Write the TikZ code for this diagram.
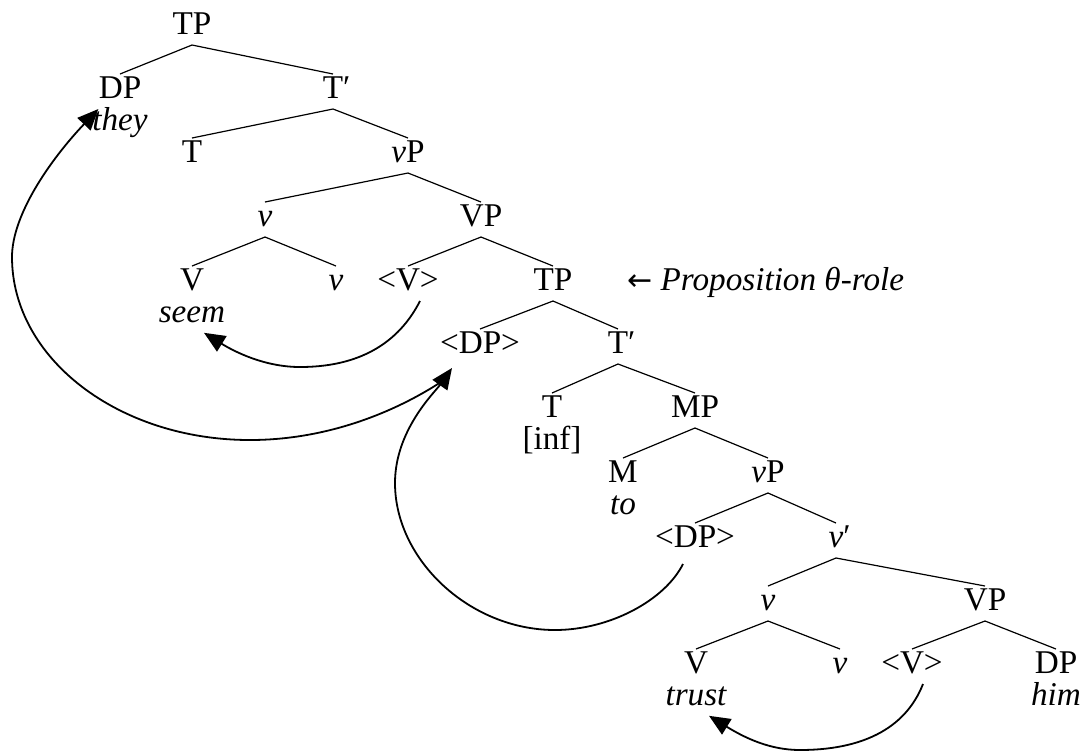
\documentclass[tikz,border=0pt]{standalone}
\usepackage{fontspec}
\setmainfont{Liberation Serif}
\newfontfamily\arrowfont{DejaVu Sans}
\usetikzlibrary{positioning,arrows.meta}

\newcommand\treesize{\fontsize{16.6pt}{20pt}\selectfont}
\tikzset{
  cat/.style={anchor=base, inner sep=0pt, outer ysep=1pt, text height=11pt, text depth=4.5pt, font=\treesize},
  word/.style={inner sep=0pt, text height=9pt, text depth=3pt, font=\treesize\itshape},
  feat/.style={word, font=\treesize},
  branch/.style={line width=0.6pt},
  move/.style={line width=0.9pt, -{Triangle[length=10.5pt,width=9pt]}},
}

\begin{document}
\begin{tikzpicture}[x=0.5pt, y=-0.5pt]
	  \useasboundingbox (0,0) rectangle (1083,752);

      % Define nodes
	  \node[cat] (tp)          at (192,34)  {TP};
	  \node[cat] (dp)          at (120,98)  {DP};
	  \node[cat] (tbar)        at (333,98)  {T\rlap{′}};
	  \node[cat] (t)           at (192,162) {T};
	  \node[cat] (vp)          at (408,162) {\textit{v}P};
	  \node[cat] (v)           at (265,226) {\textit{v}};
	  \node[cat] (bigvp)       at (481,226) {VP};
	  \node[cat] (verb)        at (192,290) {V};
	  \node[cat] (v-aff)       at (336,290) {\textit{v}};
	  \node[cat] (v-trace)     at (408,290) {<V>};
	  \node[cat] (tp-low)      at (553,290) {TP};
	  \node[cat] (dp-trace)    at (480,353) {<DP>};
	  \node[cat] (tbar-low)    at (618,353) {T\rlap{′}};
	  \node[cat] (t-low)       at (552,417) {T};
	  \node[cat] (mp)          at (695,417) {MP};
	  \node[cat] (m)           at (623,482) {M};
	  \node[cat] (vp-low)      at (768,482) {\textit{v}P};
	  \node[cat] (dp-low)      at (695,547) {<DP>};
	  \node[cat] (vbar)        at (836,547) {\textit{v}\rlap{′}};
	  \node[cat] (v-low)       at (768,610) {\textit{v}};
	  \node[cat] (bigvp-low)   at (985,610) {VP};
	  \node[cat] (verb-low)    at (696,673) {V};
	  \node[cat] (v-aff-low)   at (840,673) {\textit{v}};
	  \node[cat] (v-trace-low) at (912,673) {<V>};
	  \node[cat] (dp-obj)      at (1056,673) {DP};

	  \node[word, below=1.5pt of dp]       (they)  {they};
	  \node[word, below=1.5pt of verb]     (seem)  {seem};
	  \node[feat, below=1.5pt of t-low]    (inf)   {[inf]};
	  \node[word, below=1.5pt of m]        (to)    {to};
	  \node[word, below=1.5pt of verb-low] (trust) {trust};
	  \node[word, below=1.5pt of dp-obj]   (him)   {him};

	  \node[cat, right=27pt of tp-low]     (role)  {{\arrowfont\fontsize{15pt}{20pt}\selectfont ←} \textit{Proposition θ-role}};

	  % Connect the nodes
	  \draw[branch] (tp.south) -- (dp.north) (tp.south) -- (tbar.north);
	  \draw[branch] (tbar.south) -- (t.north) (tbar.south) -- (vp.north);
	  \draw[branch] (vp.south) -- (v.north) (vp.south) -- (bigvp.north);
	  \draw[branch] (v.south) -- (verb.north) (v.south) -- (v-aff.north);
	  \draw[branch] (bigvp.south) -- (v-trace.north) (bigvp.south) -- (tp-low.north);
	  \draw[branch] (tp-low.south) -- (dp-trace.north) (tp-low.south) -- (tbar-low.north);
	  \draw[branch] (tbar-low.south) -- (t-low.north) (tbar-low.south) -- (mp.north);
	  \draw[branch] (mp.south) -- (m.north) (mp.south) -- (vp-low.north);
	  \draw[branch] (vp-low.south) -- (dp-low.north) (vp-low.south) -- (vbar.north);
	  \draw[branch] (vbar.south) -- (v-low.north) (vbar.south) -- (bigvp-low.north);
	  \draw[branch] (v-low.south) -- (verb-low.north) (v-low.south) -- (v-aff-low.north);
	  \draw[branch] (bigvp-low.south) -- (v-trace-low.north) (bigvp-low.south) -- (dp-obj.north);

	  % Movement
	  \draw[move] ([xshift=6pt]v-trace.south) .. controls (395,350) and (350,367) .. (300,367)
	      .. controls (265,367) and (235,352) .. ([shift={(12,4)}]seem.south);
	  \draw[move] ([shift={(-33,14)}]dp-trace.south) .. controls (400,410) and (330,440) .. (250,440)
	      .. controls (118,440) and (12,358) .. (12,257)
	      .. controls (12,215) and (50,160) .. (dp.south west);
	  \draw[move] ([shift={(-12,6)}]dp-low.south) .. controls (665,600) and (610,630) .. (555,630)
	      .. controls (470,630) and (395,560) .. (395,483)
	      .. controls (395,430) and (435,392) .. ([shift={(-28,4)}]dp-trace.south);
	  \draw[move] ([xshift=5.5pt]v-trace-low.south) .. controls (905,730) and (860,750) .. (800,750)
	      .. controls (770,750) and (745,738) .. ([shift={(13,4)}]trust.south);

	\end{tikzpicture}
\end{document}
